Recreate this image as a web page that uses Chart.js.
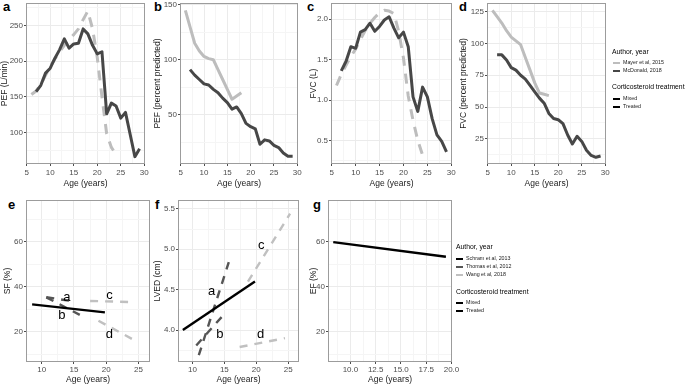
<!DOCTYPE html>
<html lang="en">
<head>
  <meta charset="UTF-8">
  <title>Lung and heart function by age</title>
  <script src="https://cdn.jsdelivr.net/npm/chart.js"></script>
  <style>
    body { margin: 0; width: 685px; height: 384px; background: #fff; position: relative; overflow: hidden;
           font-family: "Liberation Sans", Arial, Helvetica, sans-serif; }
    canvas { position: absolute; }
    .tag { position: absolute; font-weight: bold; font-size: 13px; line-height: 13px; color: #000; }
    .lt, .li { position: absolute; line-height: 8px; white-space: nowrap; opacity: 0.999; will-change: transform; }
    .lt { font-size: 6.8px; color: #000; }
    .li { font-size: 5.3px; color: #1a1a1a; }
    .li i { display: inline-block; width: 6.5px; height: 2px; vertical-align: middle; margin-right: 3.5px; }
  </style>
</head>
<body>
  <!-- panel letters -->
  <div class="tag" style="left:3px;top:-0.5px">a</div>
  <div class="tag" style="left:154px;top:-0.5px">b</div>
  <div class="tag" style="left:307px;top:-0.5px">c</div>
  <div class="tag" style="left:459px;top:-0.5px">d</div>
  <div class="tag" style="left:8px;top:197.5px">e</div>
  <div class="tag" style="left:155px;top:197.5px">f</div>
  <div class="tag" style="left:313px;top:197.5px">g</div>

  <!-- legend, top row -->
  <div class="lt" style="left:611.7px;top:47.7px">Author, year</div>
  <div class="li" style="left:613px;top:58px"><i style="background:#bdbdbd"></i>Mayer et al, 2015</div>
  <div class="li" style="left:613px;top:66px"><i style="background:#474747"></i>McDonald, 2018</div>
  <div class="lt" style="left:611.7px;top:83.3px">Corticosteroid treatment</div>
  <div class="li" style="left:613px;top:93.7px"><i style="background:#000"></i>Mixed</div>
  <div class="li" style="left:613px;top:102px"><i style="background:#000"></i>Treated</div>

  <!-- legend, bottom row -->
  <div class="lt" style="left:455.7px;top:243px">Author, year</div>
  <div class="li" style="left:456px;top:253.5px"><i style="background:#000"></i>Schram et al, 2013</div>
  <div class="li" style="left:456px;top:262px"><i style="background:#555"></i>Thomas et al, 2012</div>
  <div class="li" style="left:456px;top:270px"><i style="background:#c0c0c0"></i>Wang et al, 2018</div>
  <div class="lt" style="left:455.7px;top:288px">Corticosteroid treatment</div>
  <div class="li" style="left:456px;top:297.7px"><i style="background:#000"></i>Mixed</div>
  <div class="li" style="left:456px;top:305.5px"><i style="background:#000"></i>Treated</div>

  <script>
    // ---- values ----
    // McDonald 2018 (yearly, age 7-29)
    const mcdAge = [7, 8, 9, 10, 11, 12, 13, 14, 15, 16, 17, 18, 19, 20, 21, 22, 23, 24, 25, 26, 27, 28, 29];
    const mcdPef = [157, 166, 183, 190, 204, 216, 231, 218, 224, 225, 245, 238, 222, 210, 213, 126, 141, 137, 120, 128, 97, 66, 77];
    const mcdPefPct = [91, 86, 82, 78, 77, 73, 70, 65, 61, 55, 57, 51, 42, 39, 37, 23, 27, 26, 22, 20, 15, 12, 12];
    const mcdFvc = [1.36, 1.48, 1.66, 1.64, 1.84, 1.87, 1.95, 1.85, 1.91, 1.99, 2.03, 1.89, 1.77, 1.84, 1.66, 1.04, 0.86, 1.16, 1.04, 0.77, 0.57, 0.49, 0.36];
    const mcdFvcPct = [91, 91, 87, 81, 79, 75, 72, 67, 62, 57, 53, 45, 41, 40, 37, 28, 21, 27, 23, 16, 12, 10.5, 11.5];

    // Mayer 2015
    const mayerAge = [6, 7, 8, 9, 10, 11, 12, 13, 14, 15, 16, 17, 18, 19, 20, 21, 22, 23, 24];
    const mayerPef = [153, 158, 167, 180, 192, 203, 213, 222, 230, 237, 245, 258, 270, 245, 205, 150, 98, 79, 69];
    const mayerFvc = [1.18, 1.32, 1.43, 1.54, 1.63, 1.75, 1.86, 1.95, 2.02, 2.08, 2.11, 2.10, 2.07, 1.85, 1.52, 1.05, 0.75, 0.50, 0.32];
    const mayerPctAge = [6, 7, 8, 9, 10, 11, 12, 13, 14, 15, 16, 17, 18];
    const mayerPefPct = [145, 130, 115, 108, 103, 101, 100, 91, 82, 73, 64, 67, 70];
    const mayerFvcPct = [126, 121, 116, 110, 105, 102, 99, 89, 79, 69, 61, 60, 59];

    // bottom row: fitted lines (start and end)
    const schramAge = [8.5, 19.8];
    const schramSf = [32.2, 28.6];
    const schramLved = [4.0, 4.6];
    const schramEfAge = [8.3, 19.45];
    const schramEf = [59.8, 53.3];

    const thomasSfAgeA = [10.7, 14.7];
    const thomasSfA = [35.4, 33.6];
    const thomasSfAgeB = [10.7, 15.9];
    const thomasSfB = [35.3, 27.5];
    const wangSfAgeC = [17.5, 24.2];
    const wangSfC = [33.7, 33.2];
    const wangSfAgeD = [18.8, 24.8];
    const wangSfD = [24.9, 15.6];

    const thomasLvedAgeA = [11.0, 15.7];
    const thomasLvedA = [3.69, 4.84];
    const thomasLvedAgeB = [10.6, 14.9];
    const thomasLvedB = [3.81, 4.19];
    const wangLvedAgeC = [18.7, 25.3];
    const wangLvedC = [4.6, 5.44];
    const wangLvedAgeD = [17.4, 24.5];
    const wangLvedD = [3.79, 3.9];

    // letters written next to the study lines
    const studyTags = ['a', 'b', 'c', 'd'];
    const sfTagAge = [13.9, 13.1, 20.5, 20.5];
    const sfTagVal = [33.7, 25.6, 34.4, 17.2];
    const lvedTagAge = [13.0, 14.3, 20.8, 20.7];
    const lvedTagVal = [4.44, 3.90, 5.0, 3.90];

    // ticks
    const ageTicks = [5, 10, 15, 20, 25, 30];
    const ageLabels = ['5', '10', '15', '20', '25', '30'];
    const ageMinor = [7.5, 12.5, 17.5, 22.5, 27.5];
    const ageTicksLow = [10, 15, 20, 25];
    const ageLabelsLow = ['10', '15', '20', '25'];
    const ageMinorLow = [12.5, 17.5, 22.5];
    const ageTicksEf = [10, 12.5, 15, 17.5, 20];
    const ageLabelsEf = ['10.0', '12.5', '15.0', '17.5', '20.0'];
    const ageMinorEf = [8.75, 11.25, 13.75, 16.25, 18.75];

    const pefTicks = [100, 150, 200, 250];
    const pefLabels = ['100', '150', '200', '250'];
    const pefMinor = [75, 125, 175, 225, 275];
    const pefPctTicks = [50, 100, 150];
    const pefPctLabels = ['50', '100', '150'];
    const pefPctMinor = [25, 75, 125];
    const fvcTicks = [0.5, 1.0, 1.5, 2.0];
    const fvcLabels = ['0.5', '1.0', '1.5', '2.0'];
    const fvcMinor = [0.25, 0.75, 1.25, 1.75];
    const fvcPctTicks = [25, 50, 75, 100, 125];
    const fvcPctLabels = ['25', '50', '75', '100', '125'];
    const fvcPctMinor = [12.5, 37.5, 62.5, 87.5, 112.5];
    const pctTicks = [20, 40, 60];
    const pctLabels = ['20', '40', '60'];
    const pctMinor = [10, 30, 50, 70];
    const lvedTicks = [4.0, 4.5, 5.0, 5.5];
    const lvedLabels = ['4.0', '4.5', '5.0', '5.5'];
    const lvedMinor = [3.75, 4.25, 4.75, 5.25];

    // ---- drawing ----
    Chart.defaults.font.family = "'Liberation Sans', Arial, Helvetica, sans-serif";

    const DARK = '#474747', LIGHT = '#bdbdbd';
    const THOMAS = '#555555', WANG = '#c0c0c0';

    function series(xs, ys, color, width, dash) {
      return {
        data: xs.map((x, i) => ({ x: x, y: ys[i] })),
        borderColor: color, borderWidth: width, borderDash: dash || [],
        fill: false, pointRadius: 0
      };
    }

    // full box round the plotting area, like theme_bw
    const panelBox = {
      id: 'panelBox',
      afterDraw(chart) {
        const { ctx, chartArea: a } = chart;
        ctx.save();
        ctx.strokeStyle = '#9c9c9c';
        ctx.lineWidth = 1;
        ctx.strokeRect(a.left + 0.5, a.top + 0.5, a.right - a.left - 1, a.bottom - a.top - 1);
        ctx.restore();
      }
    };

    function tagLayer(text, ages, vals) {
      return {
        id: 'studyTags',
        afterDatasetsDraw(chart) {
          const { ctx, scales } = chart;
          ctx.save();
          ctx.font = "13px 'Liberation Sans', Arial, sans-serif";
          ctx.fillStyle = '#000';
          ctx.textAlign = 'center';
          ctx.textBaseline = 'alphabetic';
          text.forEach((t, i) => {
            ctx.fillText(t, scales.x.getPixelForValue(ages[i]), scales.y.getPixelForValue(vals[i]));
          });
          ctx.restore();
        }
      };
    }

    function axis(o) {
      const all = o.major.concat(o.minor).sort((a, b) => a - b);
      const idx = v => o.major.findIndex(m => Math.abs(m - v) < 1e-9);
      return {
        type: 'linear', position: o.pos, min: o.min, max: o.max, bounds: 'data',
        afterBuildTicks: s => { s.ticks = all.map(v => ({ value: v })); },
        afterFit: s => {
          if (s.isHorizontal()) s.height = o.size; else s.width = o.size;
          s.paddingLeft = s.paddingRight = s.paddingTop = s.paddingBottom = 0;
        },
        ticks: {
          autoSkip: false, maxRotation: 0, minRotation: 0, padding: o.pad,
          color: '#4d4d4d', font: { size: 8 },
          callback: v => { const i = idx(v); return i < 0 ? '' : o.labels[i]; }
        },
        grid: {
          color: c => (c.tick && idx(c.tick.value) >= 0) ? '#ebebeb' : '#f5f5f5',
          tickColor: c => (c.tick && idx(c.tick.value) >= 0) ? '#4d4d4d' : 'rgba(0,0,0,0)',
          tickLength: 2, lineWidth: 1
        },
        border: { display: false },
        title: { display: true, text: o.title, color: '#1a1a1a', font: { size: 8.5, lineHeight: 1 }, padding: 0 }
      };
    }

    function makePanel(p) {
      const [bl, bt, br, bb] = p.box;
      const [pl, pt, pr, pb] = p.plot;
      const cv = document.createElement('canvas');
      cv.width = br - bl;
      cv.height = bb - bt;
      cv.style.left = bl + 'px';
      cv.style.top = bt + 'px';
      document.body.appendChild(cv);
      const plugins = [panelBox];
      if (p.tags) plugins.push(p.tags);
      new Chart(cv, {
        type: 'line',
        data: { datasets: p.datasets },
        options: {
          responsive: false, animation: false,
          layout: { padding: { top: pt - bt, right: br - pr, left: 0, bottom: 0 } },
          plugins: { legend: { display: false }, tooltip: { enabled: false } },
          elements: { point: { radius: 0 }, line: { tension: 0, borderCapStyle: 'butt', borderJoinStyle: 'round' } },
          scales: {
            x: axis(Object.assign({ pos: 'bottom', size: bb - pb }, p.x)),
            y: axis(Object.assign({ pos: 'left', size: pl - bl, pad: 1 }, p.y))
          }
        },
        plugins: plugins
      });
    }

    const DASH_TOP = [10, 8];
    const DASH_LOW = [8, 7];
    const topX = { min: 4.85, max: 30.15, major: ageTicks, labels: ageLabels, minor: ageMinor, title: 'Age (years)', pad: 2 };

    // a: PEF (L/min)
    makePanel({
      box: [0, 0, 152, 188], plot: [26, 3, 145, 164], x: topX,
      y: { min: 55.7, max: 281.3, major: pefTicks, labels: pefLabels, minor: pefMinor, title: 'PEF (L/min)' },
      datasets: [series(mcdAge, mcdPef, DARK, 3), series(mayerAge, mayerPef, LIGHT, 3, DASH_TOP)]
    });
    // b: PEF (% predicted)
    makePanel({
      box: [153, 0, 305, 188], plot: [180, 3, 298, 164], x: topX,
      y: { min: 5, max: 151.7, major: pefPctTicks, labels: pefPctLabels, minor: pefPctMinor, title: 'PEF (percent predicted)' },
      datasets: [series(mcdAge, mcdPefPct, DARK, 3), series(mayerPctAge, mayerPefPct, LIGHT, 3)]
    });
    // c: FVC (L)
    makePanel({
      box: [309, 0, 458, 188], plot: [331, 3, 452, 164], x: topX,
      y: { min: 0.21, max: 2.2, major: fvcTicks, labels: fvcLabels, minor: fvcMinor, title: 'FVC (L)' },
      datasets: [series(mcdAge, mcdFvc, DARK, 3), series(mayerAge, mayerFvc, LIGHT, 3, DASH_TOP)]
    });
    // d: FVC (% predicted)
    makePanel({
      box: [459, 0, 612, 188], plot: [487, 3, 606, 164], x: topX,
      y: { min: 5.25, max: 131.75, major: fvcPctTicks, labels: fvcPctLabels, minor: fvcPctMinor, title: 'FVC (percent predicted)' },
      datasets: [series(mcdAge, mcdFvcPct, DARK, 3), series(mayerPctAge, mayerFvcPct, LIGHT, 3)]
    });

    // e: SF (%)
    makePanel({
      box: [3, 194, 157, 384], plot: [26, 200, 150, 362],
      x: { min: 7.55, max: 26.8, major: ageTicksLow, labels: ageLabelsLow, minor: ageMinorLow, title: 'Age (years)', pad: 1 },
      y: { min: 6.6, max: 78.5, major: pctTicks, labels: pctLabels, minor: pctMinor, title: 'SF (%)' },
      datasets: [
        series(schramAge, schramSf, '#000', 2.4),
        series(thomasSfAgeA, thomasSfA, THOMAS, 2.4, DASH_LOW),
        series(thomasSfAgeB, thomasSfB, THOMAS, 2.4, DASH_LOW),
        series(wangSfAgeC, wangSfC, WANG, 2.4, DASH_LOW),
        series(wangSfAgeD, wangSfD, WANG, 2.4, DASH_LOW)
      ],
      tags: tagLayer(studyTags, sfTagAge, sfTagVal)
    });
    // f: LVED (cm)
    makePanel({
      box: [153, 194, 306, 384], plot: [178, 200, 299, 362],
      x: { min: 7.74, max: 26.7, major: ageTicksLow, labels: ageLabelsLow, minor: ageMinorLow, title: 'Age (years)', pad: 1 },
      y: { min: 3.605, max: 5.61, major: lvedTicks, labels: lvedLabels, minor: lvedMinor, title: 'LVED (cm)' },
      datasets: [
        series(schramAge, schramLved, '#000', 2.4),
        series(thomasLvedAgeA, thomasLvedA, THOMAS, 2.4, DASH_LOW),
        series(thomasLvedAgeB, thomasLvedB, THOMAS, 2.4, DASH_LOW),
        series(wangLvedAgeC, wangLvedC, WANG, 2.4, DASH_LOW),
        series(wangLvedAgeD, wangLvedD, WANG, 2.4, DASH_LOW)
      ],
      tags: tagLayer(studyTags, lvedTagAge, lvedTagVal)
    });
    // g: EF (%)
    makePanel({
      box: [309, 194, 460, 384], plot: [328, 200, 452, 362],
      x: { min: 7.78, max: 20.05, major: ageTicksEf, labels: ageLabelsEf, minor: ageMinorEf, title: 'Age (years)', pad: 1 },
      y: { min: 6.6, max: 78.5, major: pctTicks, labels: pctLabels, minor: pctMinor, title: 'EF (%)' },
      datasets: [series(schramEfAge, schramEf, '#000', 2.4)]
    });
  </script>
</body>
</html>
